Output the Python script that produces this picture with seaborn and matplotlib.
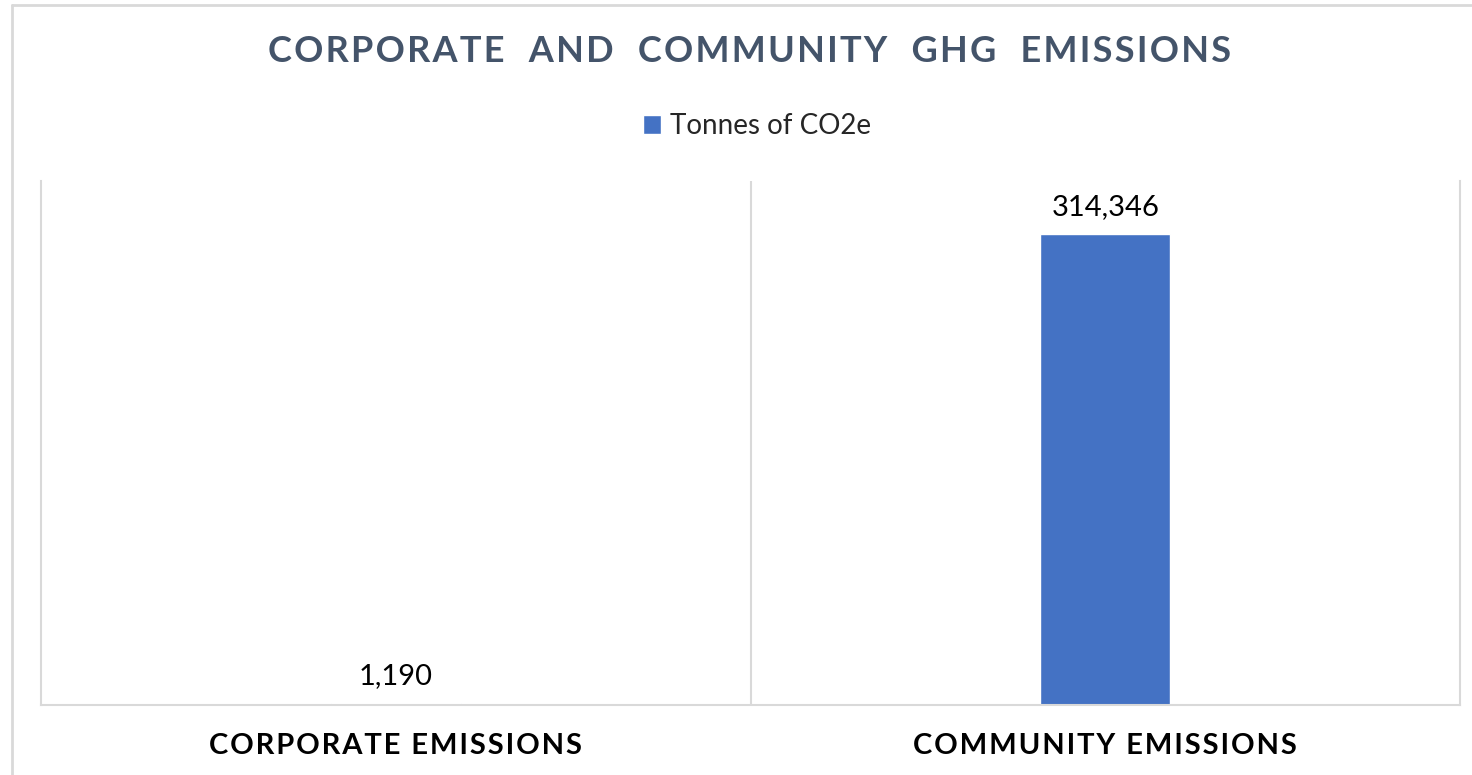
import numpy as np
import pandas as pd
import seaborn as sns
import matplotlib.pyplot as plt

# chart data
categories = ["CORPORATE EMISSIONS", "COMMUNITY EMISSIONS"]
tonnes = [1190, 314346]
series_name = "Tonnes of CO2e"
title = "CORPORATE  AND  COMMUNITY  GHG  EMISSIONS"

sns.set_theme(style="white")
plt.rcParams['font.family'] = ['Lato', 'DejaVu Sans']


def spaced(s):
    # excel-style letter spacing with hair spaces
    return "\u200a".join(s)


df = pd.DataFrame({"Category": categories, series_name: tonnes})

fig = plt.figure(figsize=(14.72, 7.75), dpi=100)
ax = fig.add_axes([41/1472, 1 - 705/775, (1460 - 41)/1472, (705 - 181)/775])

sns.barplot(data=df, x="Category", y=series_name, color="#4472C4",
            width=0.183, saturation=1, ax=ax, label=series_name)

ax.set_xlim(-0.5, 1.5)
ax.set_ylim(0, 350000)
ax.set_xlabel("")
ax.set_ylabel("")
ax.set_yticks([])

# category separators like excel
ax.set_xticks([0.5], minor=True)
ax.grid(True, which="minor", axis="x", color="#D9D9D9", lw=1.5)
ax.tick_params(axis="x", which="both", length=0, pad=20)
ax.set_xticks([0, 1])
ax.set_xticklabels([spaced(c) for c in categories], fontweight="bold",
                   fontsize=21, color="black")

for side in ["left", "right", "bottom"]:
    ax.spines[side].set_color("#D9D9D9")
    ax.spines[side].set_linewidth(1.5)
ax.spines["top"].set_visible(False)

ax.bar_label(ax.containers[0], labels=[f"{v:,}" for v in tonnes],
             padding=10, fontsize=21, color="black")

ax.legend(loc="center", bbox_to_anchor=(757/1472, 1 - 126/775),
          bbox_transform=fig.transFigure, frameon=False, fontsize=20,
          handlelength=0.65, handleheight=0.65, handletextpad=0.35)

fig.text(750/1472, 1 - 52/775, spaced(title),
         ha="center", va="center", fontsize=26, fontweight="bold", color="#44546A")

# outer chart border
fig.add_artist(plt.Line2D([12/1472, 12/1472], [0, 1 - 5/775], color="#D9D9D9", lw=2,
                          transform=fig.transFigure))
fig.add_artist(plt.Line2D([12/1472, 1], [1 - 5/775, 1 - 5/775], color="#D9D9D9", lw=2,
                          transform=fig.transFigure))

fig.savefig("out.png", dpi=100)
